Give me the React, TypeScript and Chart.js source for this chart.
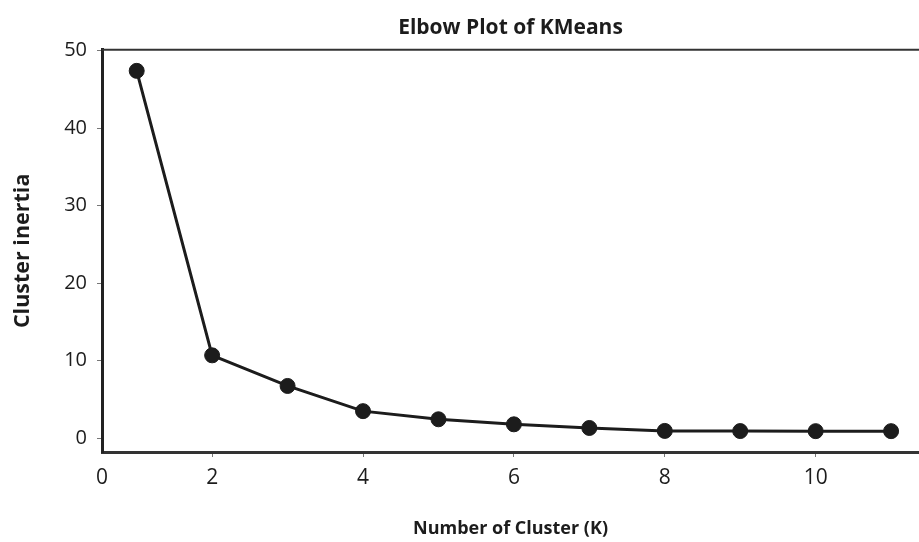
import React, { useEffect, useRef } from "react";
import { Chart, registerables } from "chart.js";

Chart.register(...registerables);

// Elbow curve: inertia for each number of clusters
const clusterCounts = [1, 2, 3, 4, 5, 6, 7, 8, 9, 10, 11];
const inertiaValues = [47.4, 10.7, 6.75, 3.5, 2.45, 1.8, 1.33, 0.95, 0.93, 0.92, 0.92];

// Axis ticks
const xTickValues = [2, 4, 6, 8, 10];
const xTickLabels = ["0", "2", "4", "6", "8", "10"];
const yTickValues = [0, 10, 20, 30, 40, 50];

const X_MIN = 0.54;
const X_MAX = 11.37;
const Y_MIN = -1.77;
const Y_MAX = 50.13;

const FONT = "'Open Sans', 'Noto Sans', sans-serif";
const INK = "#1c1c1c";

// Thin frame line along the top of the plot area
const topFrame = {
  id: "topFrame",
  afterDraw(chart: any) {
    const { ctx, chartArea } = chart;
    ctx.save();
    ctx.strokeStyle = "#333";
    ctx.lineWidth = 2;
    ctx.beginPath();
    ctx.moveTo(chartArea.left, chartArea.top);
    ctx.lineTo(chartArea.right, chartArea.top);
    ctx.stroke();
    ctx.restore();
  },
};

export default function App() {
  const canvasRef = useRef<HTMLCanvasElement | null>(null);

  useEffect(() => {
    if (!canvasRef.current) return;
    const chart = new Chart(canvasRef.current, {
      type: "line",
      data: {
        datasets: [
          {
            label: "Cluster inertia",
            data: clusterCounts.map((k, i) => ({ x: k, y: inertiaValues[i] })),
            borderColor: INK,
            backgroundColor: INK,
            borderWidth: 3,
            pointRadius: 7.5,
            pointBackgroundColor: INK,
            pointBorderColor: INK,
            pointBorderWidth: 1,
            tension: 0,
          },
        ],
      },
      options: {
        animation: false,
        responsive: true,
        maintainAspectRatio: false,
        layout: { padding: 0, autoPadding: false },
        plugins: {
          legend: { display: false },
          tooltip: { enabled: false },
          title: {
            display: true,
            text: "Elbow Plot of KMeans",
            fullSize: false,
            color: INK,
            font: { family: FONT, size: 21, weight: "bold" },
            padding: { top: 15, bottom: 9.5 },
          },
        },
        scales: {
          x: {
            type: "linear",
            min: X_MIN,
            max: X_MAX,
            afterBuildTicks: (scale: any) => {
              scale.ticks = [X_MIN, ...xTickValues].map((v) => ({ value: v }));
            },
            afterFit: (scale: any) => {
              scale.height = 90;
              scale.paddingLeft = 0;
              scale.paddingRight = 0;
            },
            ticks: {
              color: INK,
              font: { family: FONT, size: 21 },
              padding: 8,
              maxRotation: 0,
              autoSkip: false,
              callback: (_v: any, i: number) => xTickLabels[i],
            },
            grid: {
              drawOnChartArea: false,
              drawTicks: true,
              tickLength: 5,
              color: (c: any) => (c.index === 0 ? "rgba(0,0,0,0)" : "#777"),
            },
            border: { display: true, color: "#333", width: 3 },
            title: {
              display: true,
              text: "Number of Cluster (K)",
              color: INK,
              font: { family: FONT, size: 18, weight: "bold" },
              padding: { top: 0, bottom: 2 },
            },
          },
          y: {
            type: "linear",
            min: Y_MIN,
            max: Y_MAX,
            afterBuildTicks: (scale: any) => {
              scale.ticks = yTickValues.map((v) => ({ value: v }));
            },
            afterFit: (scale: any) => {
              scale.width = 102;
            },
            ticks: {
              color: INK,
              font: { family: FONT, size: 20 },
              padding: 10,
            },
            grid: {
              drawOnChartArea: false,
              drawTicks: true,
              tickLength: 5,
              color: "#777",
            },
            border: { display: true, color: "#222", width: 3 },
            title: {
              display: true,
              text: "Cluster inertia",
              color: INK,
              font: { family: FONT, size: 21.5, weight: "bold" },
              padding: { top: 10, bottom: 0 },
            },
          },
        },
      },
      plugins: [topFrame],
    });
    return () => chart.destroy();
  }, []);

  return (
    <div
      style={{
        position: "fixed",
        left: 0,
        top: 0,
        width: 919,
        height: 542,
        background: "#fff",
      }}
    >
      <canvas ref={canvasRef} />
    </div>
  );
}
